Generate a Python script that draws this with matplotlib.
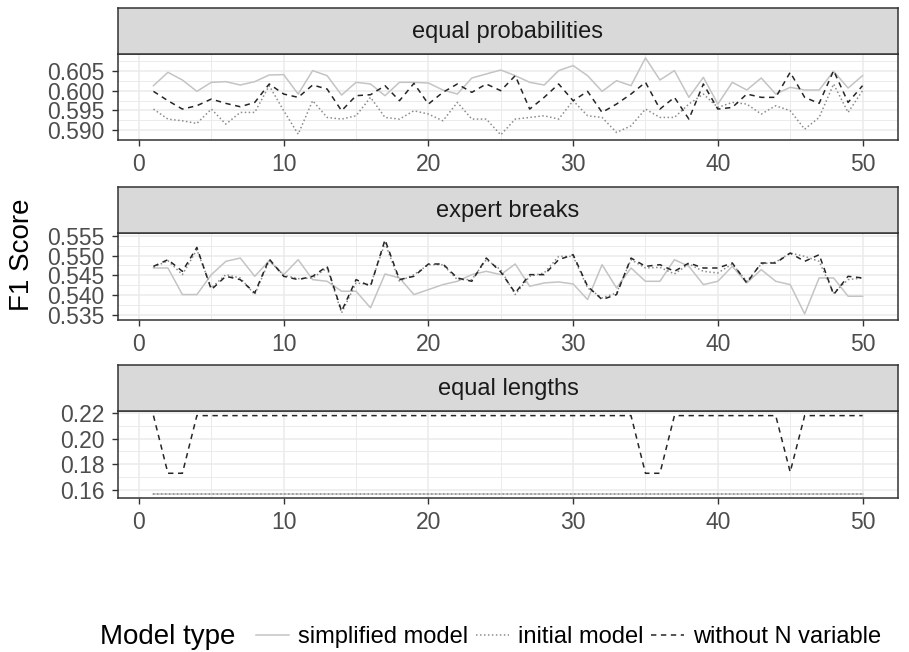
import numpy as np
import matplotlib.pyplot as plt
from matplotlib.lines import Line2D
from matplotlib.ticker import FixedLocator, FormatStrFormatter

plt.rcParams['font.family'] = ['Liberation Sans', 'DejaVu Sans']

# ---- data ----
runs = np.arange(1, 51)

facets = ['equal probabilities', 'expert breaks', 'equal lengths']

# equal probabilities
ep_simplified = [0.60127, 0.60466, 0.60271, 0.59983, 0.60212, 0.60229, 0.60144, 0.60229, 0.60398, 0.60407,
                 0.59915, 0.60509, 0.60381, 0.59890, 0.60212, 0.60170, 0.59873, 0.60212, 0.60212, 0.60195,
                 0.60017, 0.59915, 0.60322, 0.60424, 0.60525, 0.60381, 0.60212, 0.60144, 0.60509, 0.60636,
                 0.60381, 0.59983, 0.60254, 0.60127, 0.60831, 0.60271, 0.60509, 0.59831, 0.60339, 0.59661,
                 0.60212, 0.60017, 0.60322, 0.59915, 0.60085, 0.60017, 0.60017, 0.60492, 0.60068, 0.60381]
ep_initial = [0.59534, 0.59280, 0.59237, 0.59169, 0.59534, 0.59153, 0.59449, 0.59449, 0.60127, 0.59492,
              0.58898, 0.59746, 0.59322, 0.59280, 0.59364, 0.59831, 0.59322, 0.59280, 0.59492, 0.59407,
              0.59237, 0.59703, 0.59280, 0.59280, 0.58881, 0.59280, 0.59322, 0.59364, 0.59280, 0.59746,
              0.59364, 0.59322, 0.58941, 0.59110, 0.59534, 0.59322, 0.59322, 0.59661, 0.59915, 0.59576,
              0.59703, 0.59661, 0.59407, 0.59619, 0.59492, 0.59025, 0.59322, 0.60170, 0.59449, 0.60000]
ep_without_n = [0.59983, 0.59746, 0.59534, 0.59619, 0.59788, 0.59678, 0.59593, 0.59703, 0.60170, 0.59915,
                0.59831, 0.60144, 0.60042, 0.59492, 0.59873, 0.59898, 0.60127, 0.59746, 0.60186, 0.59661,
                0.59958, 0.60170, 0.59958, 0.60170, 0.60000, 0.60381, 0.59534, 0.59831, 0.60170, 0.59746,
                0.59983, 0.59449, 0.59661, 0.59915, 0.60212, 0.59534, 0.59831, 0.59280, 0.60170, 0.59534,
                0.59576, 0.59915, 0.59831, 0.59831, 0.60466, 0.59831, 0.59678, 0.60509, 0.59703, 0.60127]

# expert breaks
eb_simplified = [0.54685, 0.54685, 0.54013, 0.54013, 0.54517, 0.54853, 0.54937, 0.54475, 0.54870, 0.54517,
                 0.54895, 0.54391, 0.54349, 0.54097, 0.54097, 0.53677, 0.54534, 0.54433, 0.54013, 0.54139,
                 0.54265, 0.54349, 0.54517, 0.54601, 0.54517, 0.54786, 0.54223, 0.54307, 0.54332, 0.54282,
                 0.53887, 0.54769, 0.54181, 0.54685, 0.54349, 0.54349, 0.54895, 0.54727, 0.54265, 0.54349,
                 0.54727, 0.54307, 0.54643, 0.54349, 0.54265, 0.53525, 0.54433, 0.54433, 0.53971, 0.53971]
eb_initial = [0.54702, 0.54870, 0.54517, 0.55147, 0.54181, 0.54517, 0.54433, 0.54013, 0.54870, 0.54500,
              0.54416, 0.54433, 0.54685, 0.53550, 0.54307, 0.54265, 0.55315, 0.54349, 0.54517, 0.54769,
              0.54769, 0.54391, 0.54391, 0.54895, 0.54643, 0.54013, 0.54475, 0.54559, 0.54979, 0.54979,
              0.54181, 0.53929, 0.54055, 0.54895, 0.54685, 0.54702, 0.54534, 0.54786, 0.54601, 0.54559,
              0.54786, 0.54349, 0.54786, 0.54836, 0.55063, 0.54979, 0.54853, 0.54055, 0.54391, 0.54433]
eb_without_n = [0.54727, 0.54895, 0.54601, 0.55206, 0.54139, 0.54475, 0.54391, 0.54055, 0.54912, 0.54475,
                0.54391, 0.54475, 0.54727, 0.53592, 0.54391, 0.54223, 0.55399, 0.54391, 0.54475, 0.54786,
                0.54786, 0.54433, 0.54349, 0.54937, 0.54584, 0.54055, 0.54517, 0.54517, 0.54895, 0.55021,
                0.54223, 0.53887, 0.54013, 0.54937, 0.54727, 0.54769, 0.54601, 0.54811, 0.54685, 0.54685,
                0.54811, 0.54307, 0.54811, 0.54811, 0.55063, 0.54853, 0.55021, 0.54013, 0.54475, 0.54433]

# equal lengths
el_simplified = [0.1565] * 50
el_initial = [0.1565] * 50
el_without_n = [0.218, 0.173, 0.173] + [0.218] * 30 + [0.218, 0.173, 0.173] + [0.218] * 8 + [0.174] + [0.218] * 5

series = {
    'equal probabilities': (ep_simplified, ep_initial, ep_without_n),
    'expert breaks': (eb_simplified, eb_initial, eb_without_n),
    'equal lengths': (el_simplified, el_initial, el_without_n),
}

y_limits = {
    'equal probabilities': (0.5875, 0.6093),
    'expert breaks': (0.5337, 0.5557),
    'equal lengths': (0.1537, 0.2216),
}
y_ticks = {
    'equal probabilities': [0.590, 0.595, 0.600, 0.605],
    'expert breaks': [0.535, 0.540, 0.545, 0.550, 0.555],
    'equal lengths': [0.16, 0.18, 0.20, 0.22],
}
x_ticks = [0, 10, 20, 30, 40, 50]

# ---- styling ----
W, H = 909, 652
styles = [
    dict(color='#c4c4c4', linestyle='-', label='simplified model'),
    dict(color='#8c8c8c', linestyle=(0, (1, 1.6)), label='initial model'),
    dict(color='#262626', linestyle=(0, (3.5, 3)), label='without N variable'),
]
lw = 1.1
tick_size = 16.5
border = '#333333'

fig = plt.figure(figsize=(W / 100, H / 100), dpi=100)

# pixel layout: (strip top, panel top, panel bottom)
rows = [(8, 54, 140), (187, 233, 320), (365, 411, 498)]
left, right = 118, 898

for name, (s_top, p_top, p_bot) in zip(facets, rows):
    ax = fig.add_axes([left / W, 1 - p_bot / H, (right - left) / W, (p_bot - p_top) / H])
    for vals, st in zip(series[name], styles):
        ax.plot(runs, vals, lw=lw, **st)
    ax.set_xlim(-1.45, 52.45)
    ax.set_ylim(*y_limits[name])
    ax.xaxis.set_major_locator(FixedLocator(x_ticks))
    ax.xaxis.set_minor_locator(FixedLocator([5, 15, 25, 35, 45]))
    yt = y_ticks[name]
    step = yt[1] - yt[0]
    ax.yaxis.set_major_locator(FixedLocator(yt))
    ax.yaxis.set_minor_locator(FixedLocator([yt[0] - step / 2] + [t + step / 2 for t in yt]))
    ax.yaxis.set_major_formatter(FormatStrFormatter('%.2f' if name == 'equal lengths' else '%.3f'))
    ax.grid(which='major', color='#ebebeb', lw=1.1)
    ax.grid(which='minor', color='#ebebeb', lw=0.7)
    ax.set_axisbelow(True)
    ax.tick_params(which='major', length=4.5, width=1.0, color=border,
                   labelsize=tick_size, labelcolor='#4d4d4d', pad=5)
    ax.tick_params(which='minor', length=0)
    for sp in ax.spines.values():
        sp.set_color(border)
        sp.set_linewidth(1.1)

    sax = fig.add_axes([left / W, 1 - p_top / H, (right - left) / W, (p_top - s_top) / H])
    sax.set_facecolor('#d9d9d9')
    sax.set_xticks([])
    sax.set_yticks([])
    for sp in sax.spines.values():
        sp.set_color(border)
        sp.set_linewidth(1.1)
    sax.text(0.5, 0.47, name, ha='center', va='center', fontsize=17, color='#1a1a1a',
             transform=sax.transAxes)

fig.text(22 / W, 1 - 255 / H, 'F1 Score', rotation=90, ha='center', va='center', fontsize=20)

# legend at the bottom
fig.text(100 / W, 1 - 637 / H, 'Model type', ha='left', va='center', fontsize=20)
handles = [Line2D([], [], lw=lw, **st) for st in styles]
fig.legend(handles=handles, loc='center left', bbox_to_anchor=(256 / W, 1 - 637 / H), ncol=3,
           frameon=False, fontsize=17, handlelength=1.4, handletextpad=0.4,
           columnspacing=0.3, borderaxespad=0, borderpad=0)

fig.savefig('out.png', dpi=100)
